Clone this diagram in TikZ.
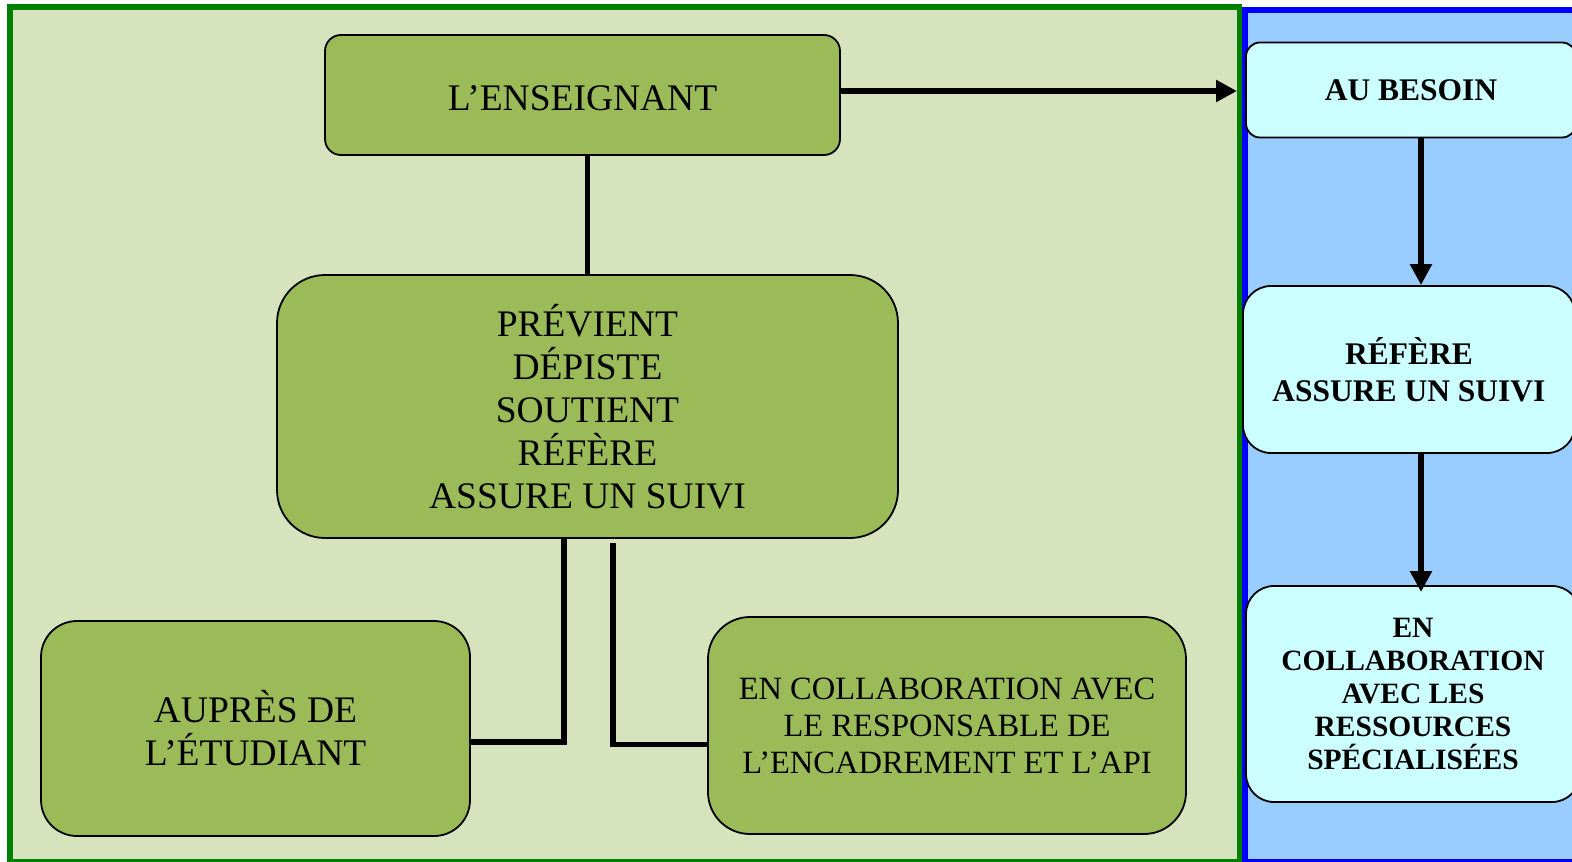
\documentclass[tikz,border=0pt]{standalone}
\usepackage{fontspec}
\setmainfont{Liberation Serif}
\usetikzlibrary{arrows.meta}

\definecolor{panelgreen}{HTML}{D7E3BC}
\definecolor{framegreen}{HTML}{008000}
\definecolor{boxgreen}{HTML}{9BBB59}
\definecolor{panelblue}{HTML}{99CCFF}
\definecolor{frameblue}{HTML}{0000FF}
\definecolor{boxcyan}{HTML}{CCFFFF}

\begin{document}
\begin{tikzpicture}[x=1pt,y=-1pt,
  greenbox/.style={draw=black, line width=1.8pt, fill=boxgreen, align=center,
    inner sep=0pt, font=\fontsize{37.5}{43}\selectfont},
  cyanbox/.style={draw=black, line width=1.8pt, fill=boxcyan, align=center,
    inner sep=0pt, font=\fontsize{31.5}{37}\selectfont\bfseries},
  conn/.style={line width=5.5pt, line join=miter},
  arrowconn/.style={conn, -{Triangle[length=21pt,width=21pt]}}]

\useasboundingbox (0,0) rectangle (1572,862);
\clip (0,0) rectangle (1572,862);

% two background panels
\draw[line width=6pt, draw=frameblue, fill=panelblue] (1245,10) rectangle (1600,862);
\draw[line width=5.5pt, draw=framegreen, fill=panelgreen] (10,7) rectangle (1239.5,862);

% left panel boxes
\node[greenbox, rounded corners=16pt, minimum width=515pt, minimum height=120pt]
  (ens) at (582.5,95) {\raisebox{-3pt}[\height][\depth]{L’ENSEIGNANT}};
\node[greenbox, rounded corners=48pt, minimum width=621pt, minimum height=263pt]
  (prev) at (587.5,406.5) {PRÉVIENT\\DÉPISTE\\SOUTIENT\\RÉFÈRE\\ASSURE UN SUIVI};
\node[greenbox, rounded corners=36pt, minimum width=429pt, minimum height=215pt]
  (aupres) at (255.5,728.5) {AUPRÈS DE\\L’ÉTUDIANT};
\node[greenbox, rounded corners=42pt, minimum width=478pt, minimum height=217pt,
  font=\fontsize{32.5}{37}\selectfont]
  (collab) at (947,725.5) {EN COLLABORATION AVEC\\LE RESPONSABLE DE\\L’ENCADREMENT ET L’API};

% right panel boxes
\node[cyanbox, rounded corners=14pt, minimum width=330pt, minimum height=95pt]
  (besoin) at (1411,90) {AU BESOIN};
\node[cyanbox, rounded corners=28pt, minimum width=332pt, minimum height=167pt]
  (refere) at (1409,369.5) {RÉFÈRE\\ASSURE UN SUIVI};
\node[cyanbox, rounded corners=28pt, minimum width=334pt, minimum height=216pt,
  font=\fontsize{29.5}{33}\selectfont\bfseries]
  (ress) at (1413,694) {EN\\COLLABORATION\\AVEC LES\\RESSOURCES\\SPÉCIALISÉES};

% connectors of the left panel
\coordinate (arrEnd) at (1237,91);
\draw[arrowconn] (ens.east |- arrEnd) -- (arrEnd);
\draw[conn] (prev.north |- ens.south) -- (prev.north);
\coordinate (jl) at (564,742);
\draw[conn] (jl |- prev.south) -- (jl) -- (aupres.east |- jl);
\coordinate (jrtop) at (613,543);
\coordinate (jr) at (613,744.5);
\draw[conn] (jrtop) -- (jr) -- (collab.west |- jr);

% connectors of the right panel
\coordinate (vx) at (1421,0);
\coordinate (tip2) at (1421,592);
\draw[arrowconn] (besoin.south -| vx) -- (refere.north -| vx);
\draw[arrowconn] (refere.south -| vx) -- (tip2);

\end{tikzpicture}
\end{document}
